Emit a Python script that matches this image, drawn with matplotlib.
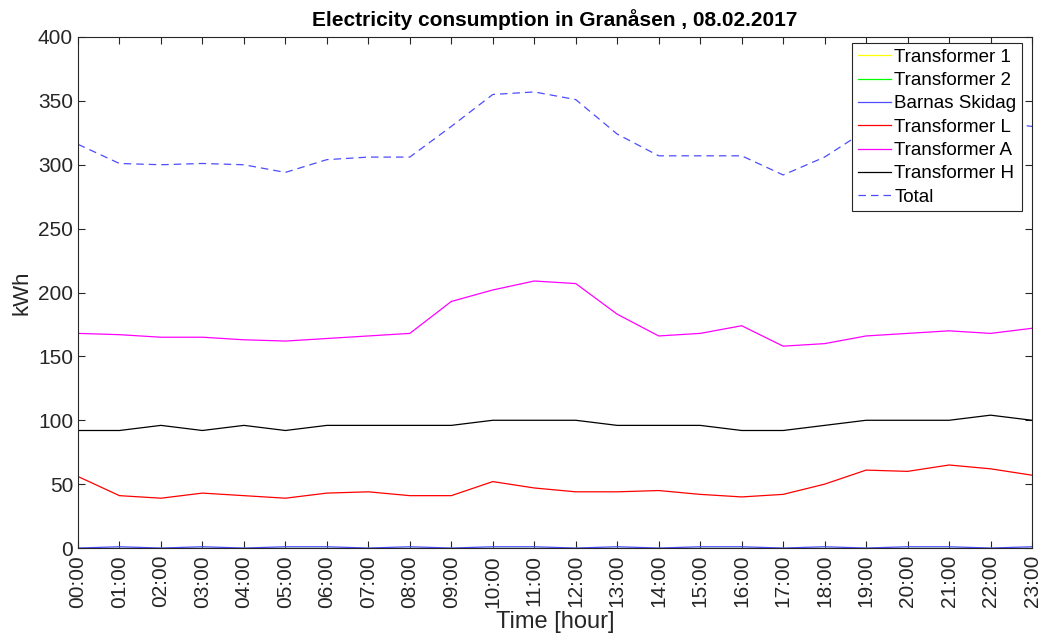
import numpy as np
import matplotlib
matplotlib.use("Agg")
import matplotlib.pyplot as plt

plt.rcParams['font.family'] = ['Liberation Sans', 'DejaVu Sans']

hours = [f"{h:02d}:00" for h in range(24)]

transformer_1 = [0] * 24
transformer_2 = [0] * 24
barnas_skidag = [0, 1, 0, 1, 0, 1, 1, 0, 1, 0, 1, 1, 0, 1, 0, 1, 1, 0, 1, 0, 1, 1, 0, 1]
transformer_l = [56, 41, 39, 43, 41, 39, 43, 44, 41, 41, 52, 47, 44, 44, 45, 42, 40, 42, 50, 61, 60, 65, 62, 57]
transformer_a = [168, 167, 165, 165, 163, 162, 164, 166, 168, 193, 202, 209, 207, 183, 166, 168, 174, 158, 160, 166, 168, 170, 168, 172]
transformer_h = [92, 92, 96, 92, 96, 92, 96, 96, 96, 96, 100, 100, 100, 96, 96, 96, 92, 92, 96, 100, 100, 100, 104, 100]
total = [316, 301, 300, 301, 300, 294, 304, 306, 306, 330, 355, 357, 351, 324, 307, 307, 307, 292, 306, 327, 329, 336, 334, 330]

x = np.arange(len(hours))

fig = plt.figure(figsize=(10.45, 6.4), dpi=100)
ax = fig.add_axes([0.0746, 0.1437, 0.9130, 0.7985])

lw = 0.9
ax.plot(x, transformer_1, color=(1, 1, 0), lw=lw, label="Transformer 1")
ax.plot(x, transformer_2, color=(0, 1, 0), lw=lw, label="Transformer 2")
ax.plot(x, barnas_skidag, color=(0.3, 0.3, 1), lw=lw, label="Barnas Skidag")
ax.plot(x, transformer_l, color=(1, 0, 0), lw=lw, label="Transformer L")
ax.plot(x, transformer_a, color=(1, 0, 1), lw=lw, label="Transformer A")
ax.plot(x, transformer_h, color=(0, 0, 0), lw=lw, label="Transformer H")
ax.plot(x, total, color=(0.3, 0.3, 1), lw=lw, ls=(0, (6, 4)), label="Total")

ax.set_xlim(0, 23)
ax.set_ylim(0, 400)
ax.set_xticks(x)
ax.set_xticklabels(hours, rotation=90)
ax.set_yticks(np.arange(0, 401, 50))
ax.tick_params(direction='in', top=True, right=True, labelsize=15,
               colors='#262626', length=5, width=0.8)
ax.tick_params(axis='x', pad=5)
for s in ax.spines.values():
    s.set_color('#262626')
    s.set_linewidth(0.8)

ax.set_xlabel("Time [hour]", fontsize=17, color='#262626', labelpad=2)
ax.set_ylabel("kWh", fontsize=16, color='#262626', labelpad=4)
ax.set_title("Electricity consumption in Granåsen , 08.02.2017",
             fontsize=15, fontweight='bold', pad=8)

leg = ax.legend(loc='upper right', fontsize=13.5, fancybox=False,
                edgecolor='#262626', framealpha=1,
                bbox_to_anchor=(0.9895, 0.988),
                handlelength=1.75, handletextpad=0.2, labelspacing=0.33,
                borderpad=0.3, borderaxespad=0)
leg.get_frame().set_linewidth(0.8)

fig.savefig("out.png", dpi=100)
